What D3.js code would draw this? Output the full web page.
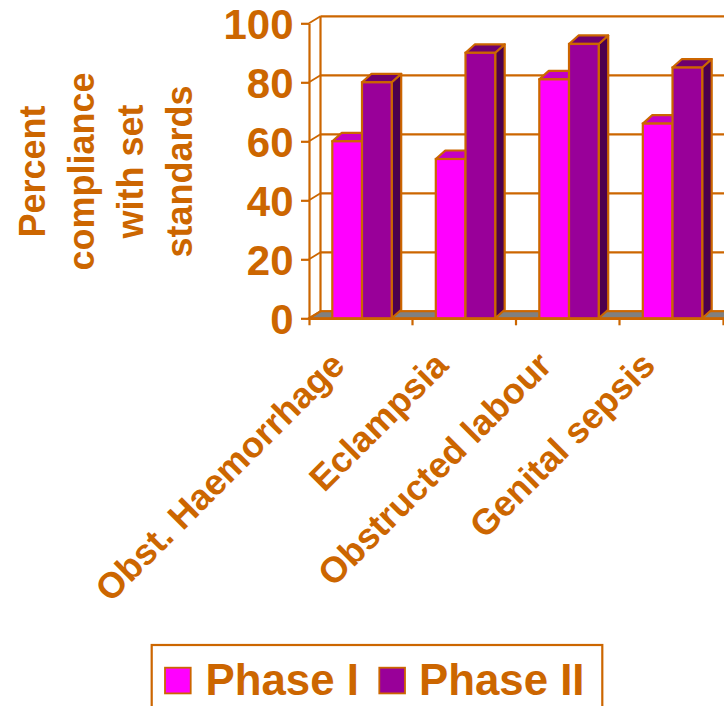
<!DOCTYPE html>
<html>
<head>
<meta charset="utf-8">
<script src="https://cdn.jsdelivr.net/npm/d3@7"></script>
<style>
  html, body { margin: 0; padding: 0; background: #ffffff; }
  svg { display: block; }
  text { font-family: "Liberation Sans", Arial, sans-serif; font-weight: bold; fill: #CC6600; }
</style>
</head>
<body>
<svg id="chart" width="724" height="706"></svg>
<script>
// Percent compliance with set standards, by complication and phase
const categories = ["Obst. Haemorrhage", "Eclampsia", "Obstructed labour", "Genital sepsis"];
const seriesNames = ["Phase I", "Phase II"];
const phase1 = [60, 54, 81, 66];
const phase2 = [80, 90, 93, 85];
const yTicks = [0, 20, 40, 60, 80, 100];
const titleLines = ["Percent", "compliance", "with set", "standards"];

// Face colours per series: front, top, side
const frontColors = ["#FF00FF", "#990099"];
const topColors = ["#C400C4", "#6E006E"];
const sideColors = ["#800080", "#4D004D"];
const ink = "#CC6600";
const floorFill = "#808080";

const svg = d3.select("#chart");

// Front plane of the 3-D box
const x0 = d3.scaleBand().domain(categories).range([309, 723]).padding(0);
const x1 = d3.scaleBand().domain(seriesNames).range([23.3, 23.3 + 59.4]).padding(0);
const y = d3.scaleLinear().domain([0, 100]).range([318.3, 23.3]);

// Depth offsets: walls and columns
const wallDx = 11.5, wallDy = -7;
const barDx = 9.5, barDy = -8.5;

const xLeft = x0.range()[0];
const xRight = x0.range()[1];

// Back wall
const back = svg.append("g");
back.append("rect")
  .attr("x", xLeft + wallDx).attr("y", y(100) + wallDy)
  .attr("width", xRight - xLeft + 20).attr("height", y(0) - y(100))
  .attr("fill", "#ffffff");
back.selectAll("line.grid")
  .data(yTicks)
  .join("line")
  .attr("class", "grid")
  .attr("x1", xLeft + wallDx).attr("x2", xRight + wallDx + 20)
  .attr("y1", d => y(d) + wallDy).attr("y2", d => y(d) + wallDy)
  .attr("stroke", ink).attr("stroke-width", 2.2);
back.append("line")
  .attr("x1", xLeft + wallDx).attr("x2", xLeft + wallDx)
  .attr("y1", y(100) + wallDy).attr("y2", y(0) + wallDy)
  .attr("stroke", ink).attr("stroke-width", 2.2);

// Floor
const floorPts = [
  [xLeft, y(0)], [xRight + 20, y(0)],
  [xRight + 20 + wallDx, y(0) + wallDy], [xLeft + wallDx, y(0) + wallDy]
];
svg.append("path")
  .attr("d", d3.line()(floorPts) + "Z")
  .attr("fill", floorFill).attr("stroke", ink).attr("stroke-width", 2);

// Side wall gridlines (diagonals)
svg.append("g").selectAll("line")
  .data(yTicks)
  .join("line")
  .attr("x1", xLeft).attr("y1", d => y(d))
  .attr("x2", xLeft + wallDx).attr("y2", d => y(d) + wallDy)
  .attr("stroke", ink).attr("stroke-width", 1.8);

// Value axis on the front edge
const yAxis = d3.axisLeft(y).tickValues(yTicks).tickSize(8).tickSizeOuter(0).tickPadding(7.5);
const yG = svg.append("g").attr("transform", `translate(${xLeft},0)`).call(yAxis);
yG.select(".domain").attr("stroke", ink).attr("stroke-width", 2.2);
yG.selectAll(".tick line").attr("stroke", ink).attr("stroke-width", 2.2);
yG.selectAll(".tick text")
  .attr("fill", ink)
  .attr("font-size", 42)
  .attr("font-family", "'Liberation Sans', Arial, sans-serif")
  .attr("font-weight", "bold")
  .attr("dy", "0.37em");

// Columns
const rows = categories.map((c, i) => ({ cat: c, values: [phase1[i], phase2[i]] }));
const groups = svg.append("g").selectAll("g")
  .data(rows)
  .join("g")
  .attr("transform", d => `translate(${x0(d.cat)},0)`);

groups.each(function (row) {
  const g = d3.select(this);
  row.values.forEach((v, i) => {
    const bx = x1(seriesNames[i]);
    const bw = x1.bandwidth();
    const yt = y(v);
    const yb = y(0);
    const top = [[bx, yt], [bx + bw, yt], [bx + bw + barDx, yt + barDy], [bx + barDx, yt + barDy]];
    const side = [[bx + bw, yt], [bx + bw + barDx, yt + barDy], [bx + bw + barDx, yb + barDy], [bx + bw, yb]];
    g.append("path").attr("d", d3.line()(side) + "Z")
      .attr("fill", sideColors[i]).attr("stroke", ink).attr("stroke-width", 2.2).attr("stroke-linejoin", "round");
    g.append("path").attr("d", d3.line()(top) + "Z")
      .attr("fill", topColors[i]).attr("stroke", ink).attr("stroke-width", 2.2).attr("stroke-linejoin", "round");
    g.append("rect")
      .attr("x", bx).attr("y", yt).attr("width", bw).attr("height", yb - yt)
      .attr("fill", frontColors[i]).attr("stroke", ink).attr("stroke-width", 2.2);
  });
});

// Category axis along the front of the floor
const xAxis = d3.axisBottom(x0).tickSizeInner(0).tickSizeOuter(7).tickPadding(0);
const xG = svg.append("g").attr("transform", `translate(0,${y(0)})`).call(xAxis);
xG.select(".domain").attr("stroke", ink).attr("stroke-width", 2.2);
xG.selectAll(".tick line").remove();
xG.selectAll(".tick text")
  .attr("fill", ink)
  .attr("font-size", 36)
  .attr("font-family", "'Liberation Sans', Arial, sans-serif")
  .attr("font-weight", "bold")
  .attr("text-anchor", "end")
  .attr("y", 0).attr("dy", 0)
  .attr("transform", "translate(-14,49) rotate(-45)");

// Tick marks between categories
svg.append("g").selectAll("line")
  .data(categories.slice(1))
  .join("line")
  .attr("x1", d => x0(d)).attr("x2", d => x0(d))
  .attr("y1", y(0)).attr("y2", y(0) + 7)
  .attr("stroke", ink).attr("stroke-width", 2.2);

// Value axis title
const title = svg.append("g");
titleLines.forEach((t, i) => {
  title.append("text")
    .attr("transform", `translate(${45 + i * 49},171.5) rotate(-90)`)
    .attr("text-anchor", "middle")
    .attr("font-size", 36)
    .text(t);
});

// Legend
const legend = svg.append("g");
legend.append("rect")
  .attr("x", 151.7).attr("y", 645).attr("width", 450.6).attr("height", 100)
  .attr("fill", "none").attr("stroke", ink).attr("stroke-width", 2.2);
const legendX = [165, 379.3];
const legendTextX = [205.5, 419];
seriesNames.forEach((s, i) => {
  legend.append("rect")
    .attr("x", legendX[i]).attr("y", 667.7).attr("width", 25.7).attr("height", 25.7)
    .attr("fill", frontColors[i]).attr("stroke", ink).attr("stroke-width", 1.8);
  legend.append("text")
    .attr("x", legendTextX[i]).attr("y", 695)
    .attr("font-size", 43.8)
    .text(s);
});
</script>
</body>
</html>
